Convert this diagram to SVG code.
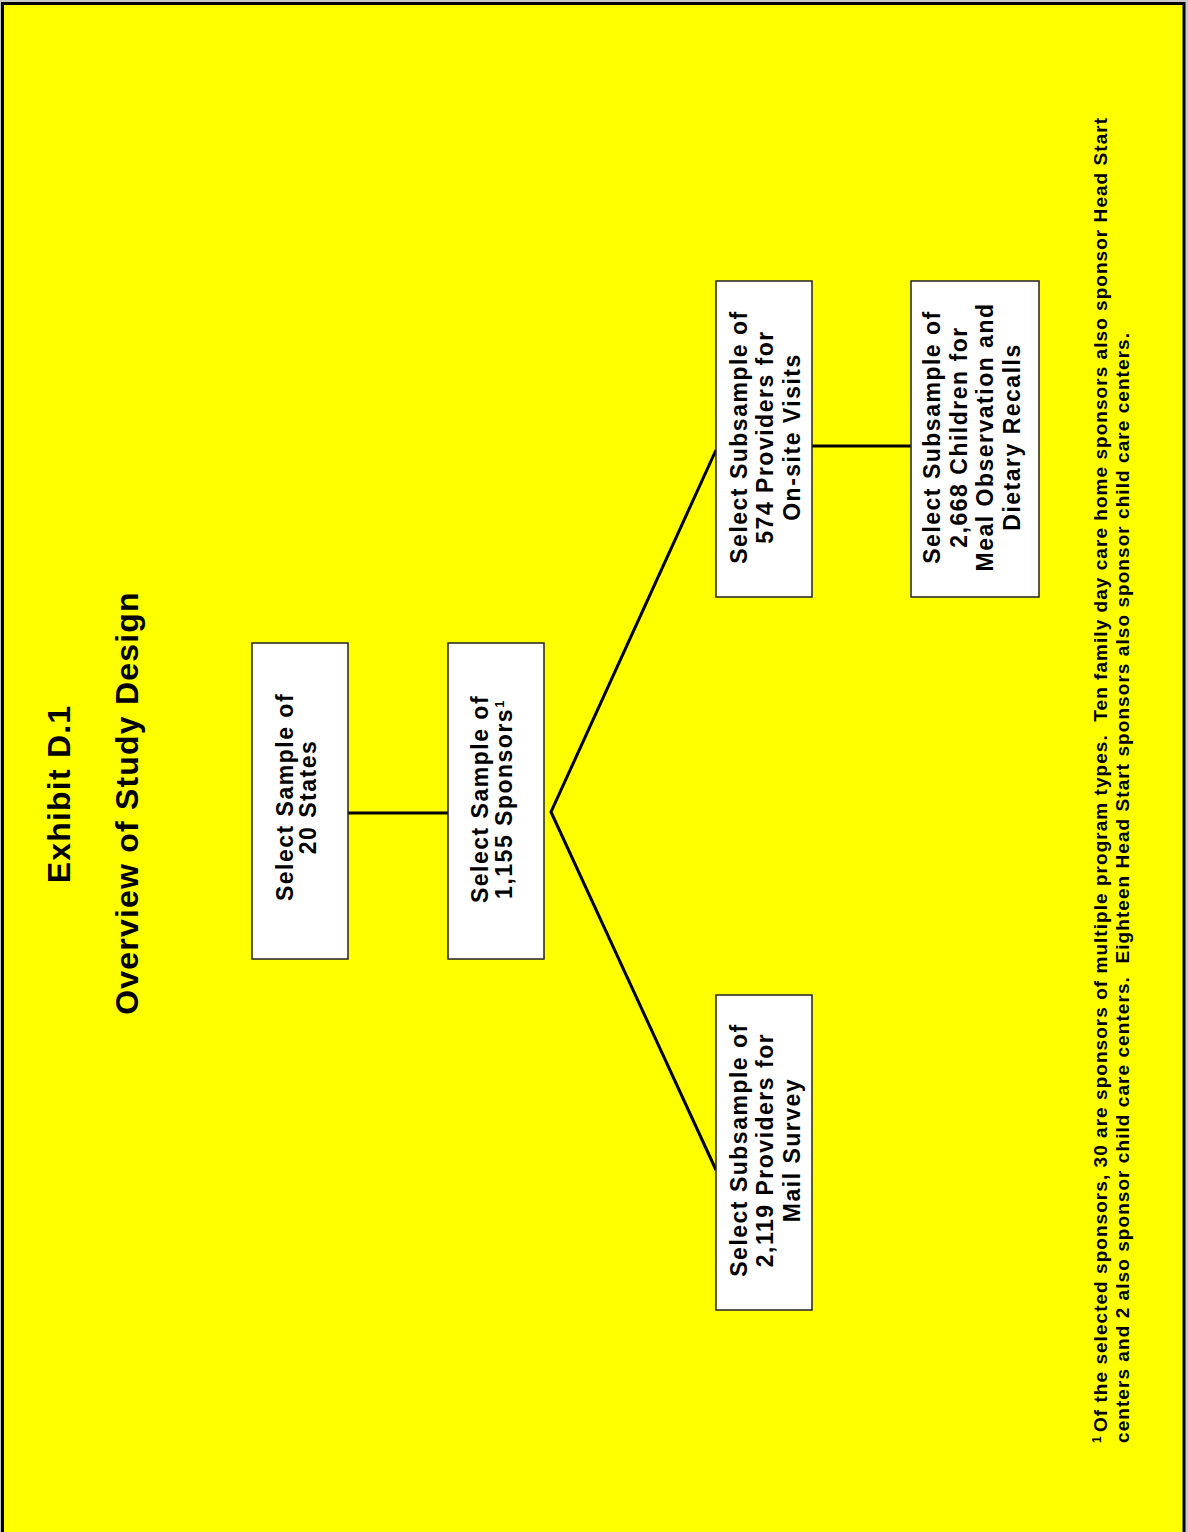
<svg xmlns="http://www.w3.org/2000/svg" width="1188" height="1532" viewBox="0 0 1188 1532">
<style>
.page{fill:#FFFF00;stroke:#000;stroke-width:3}
.box{fill:#fff;stroke:#222;stroke-width:1.5}
.conn{fill:none;stroke:#000;stroke-width:3}
text{font-family:"Liberation Sans",Arial,sans-serif;font-weight:bold;fill:#000}
.bt{font-size:23px;letter-spacing:1.5px;text-anchor:middle}
.title{font-size:32px;letter-spacing:1.2px;text-anchor:middle}
.fn{font-size:19px}
.sup{font-size:12px}
</style>
<rect x="0" y="0" width="1188" height="1532" fill="#c8c8c8"/>
<rect class="page" x="2.5" y="3.5" width="1181.5" height="1540"/>
<g id="title">
<text class="title" transform="translate(70,794) rotate(-90)">Exhibit D.1</text>
<text class="title" transform="translate(138,803) rotate(-90)" letter-spacing="1.1">Overview of Study Design</text>
</g>
<g id="connectors">
<line class="conn" x1="348" y1="813" x2="448" y2="813"/>
<polyline class="conn" points="716,450 551,812 716,1170"/>
<line class="conn" x1="812" y1="446" x2="911" y2="446"/>
</g>
<g id="states">
<rect class="box" x="252" y="643" width="96" height="316"/>
<g transform="translate(300,797) rotate(-90)">
<text class="bt" x="0" y="-7">Select Sample of</text>
<text class="bt" x="0" y="16">20 States</text>
</g>
</g>
<g id="sponsors">
<rect class="box" x="448" y="643" width="96" height="316"/>
<g transform="translate(496,799) rotate(-90)">
<text class="bt" x="0" y="-8">Select Sample of</text>
<text class="bt" x="0" y="16">1,155 Sponsors<tspan font-size="13" dy="-8">1</tspan></text>
</g>
</g>
<g id="onsite">
<rect class="box" x="716" y="281" width="96" height="316"/>
<g transform="translate(764,437) rotate(-90)">
<text class="bt" x="0" y="-17">Select Subsample of</text>
<text class="bt" x="0" y="9">574 Providers for</text>
<text class="bt" x="0" y="36">On-site Visits</text>
</g>
</g>
<g id="children">
<rect class="box" x="911" y="281" width="128" height="316"/>
<g transform="translate(975,437) rotate(-90)">
<text class="bt" x="0" y="-35">Select Subsample of</text>
<text class="bt" x="0" y="-8">2,668 Children for</text>
<text class="bt" x="0" y="18">Meal Observation and</text>
<text class="bt" x="0" y="45">Dietary Recalls</text>
</g>
</g>
<g id="mail">
<rect class="box" x="716" y="995" width="96" height="315"/>
<g transform="translate(764,1150) rotate(-90)">
<text class="bt" x="0" y="-17">Select Subsample of</text>
<text class="bt" x="0" y="9">2,119 Providers for</text>
<text class="bt" x="0" y="36">Mail Survey</text>
</g>
</g>
<g id="footnote" transform="rotate(-90)">
<text class="sup" x="-1443" y="1101">1</text>
<text class="fn" x="-1432" y="1107" textLength="1314" lengthAdjust="spacing" xml:space="preserve">Of the selected sponsors, 30 are sponsors of multiple program types.  Ten family day care home sponsors also sponsor Head Start</text>
<text class="fn" x="-1443" y="1129" textLength="1110" lengthAdjust="spacing" xml:space="preserve">centers and 2 also sponsor child care centers.  Eighteen Head Start sponsors also sponsor child care centers.</text>
</g>
</svg>
